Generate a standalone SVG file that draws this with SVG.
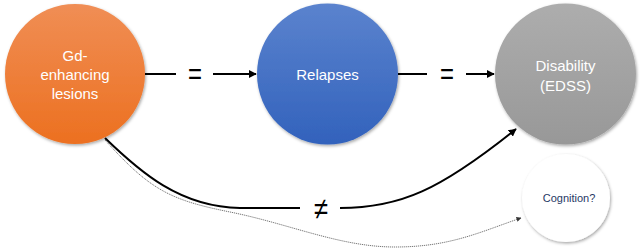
<svg xmlns="http://www.w3.org/2000/svg" width="640" height="249" viewBox="0 0 640 249">
<defs>
<linearGradient id="gOrange" x1="0" y1="0" x2="0" y2="1">
<stop offset="0" stop-color="#F08E55"/><stop offset="1" stop-color="#EC7020"/>
</linearGradient>
<linearGradient id="gBlue" x1="0" y1="0" x2="0" y2="1">
<stop offset="0" stop-color="#5B83CE"/><stop offset="1" stop-color="#3262BC"/>
</linearGradient>
<linearGradient id="gGray" x1="0" y1="0" x2="0" y2="1">
<stop offset="0" stop-color="#ADADAD"/><stop offset="1" stop-color="#989898"/>
</linearGradient>
<filter id="shadow" x="-20%" y="-20%" width="140%" height="140%">
<feDropShadow dx="1" dy="1.5" stdDeviation="1.5" flood-color="#000" flood-opacity="0.35"/>
</filter>
<marker id="arrow" viewBox="0 0 10 10" refX="9" refY="5" markerWidth="4" markerHeight="4" orient="auto" markerUnits="strokeWidth">
<path d="M0,0 L10,5 L0,10 z" fill="#000"/>
</marker>
<marker id="arrowSmall" viewBox="0 0 10 10" refX="9" refY="5" markerWidth="5" markerHeight="5" orient="auto" markerUnits="strokeWidth">
<path d="M0,0 L10,5 L0,10 z" fill="#333"/>
</marker>
</defs>
<style>
.lbl{font-family:"Liberation Sans",Arial,sans-serif;font-size:15px;fill:#fff;text-anchor:middle}
.sym{font-family:"Liberation Sans",Arial,sans-serif;font-size:30px;fill:#000;text-anchor:middle}
.conn{fill:none;stroke:#000;stroke-width:2}
.dot{fill:none;stroke:#777;stroke-width:1;stroke-dasharray:1.2 0.8}
</style>
<g id="connectors">
<line class="conn" x1="145" y1="74" x2="176" y2="74"/>
<line class="conn" x1="213" y1="74" x2="256" y2="74" marker-end="url(#arrow)"/>
<text class="sym" x="195" y="84" textLength="14" lengthAdjust="spacingAndGlyphs">=</text>
<line class="conn" x1="398" y1="74" x2="427" y2="74"/>
<line class="conn" x1="466" y1="74" x2="494" y2="74" marker-end="url(#arrow)"/>
<text class="sym" x="447" y="84" textLength="14" lengthAdjust="spacingAndGlyphs">=</text>
<path class="conn" d="M105,138 C140,172 180,207 240,208 L300,208"/>
<path class="conn" d="M340,208 C400,208 440,190 516,129" marker-end="url(#arrow)"/>
<text class="sym" x="321" y="219" font-size="24" textLength="14" lengthAdjust="spacingAndGlyphs">≠</text>
<path class="dot" d="M105,140 C150,190 170,200 230,212 S340,247 395,247 S480,232 521,218" marker-end="url(#arrowSmall)"/>
</g>
<g id="node-gd">
<circle cx="75" cy="74" r="70" fill="url(#gOrange)" filter="url(#shadow)"/>
<text class="lbl" x="75" y="61">Gd-</text>
<text class="lbl" x="75" y="80">enhancing</text>
<text class="lbl" x="75" y="99">lesions</text>
</g>
<g id="node-relapses">
<circle cx="327.5" cy="74" r="70.5" fill="url(#gBlue)" filter="url(#shadow)"/>
<text class="lbl" x="327.5" y="80">Relapses</text>
</g>
<g id="node-disability">
<circle cx="565.5" cy="74" r="70.5" fill="url(#gGray)" filter="url(#shadow)"/>
<text class="lbl" x="565.5" y="71">Disability</text>
<text class="lbl" x="565.5" y="91">(EDSS)</text>
</g>
<g id="node-cognition">
<circle cx="566" cy="198" r="44" fill="#fff" filter="url(#shadow)"/>
<text x="569" y="202" font-family="'Liberation Sans',Arial,sans-serif" font-size="11" fill="#1F3864" text-anchor="middle">Cognition?</text>
</g>
</svg>
